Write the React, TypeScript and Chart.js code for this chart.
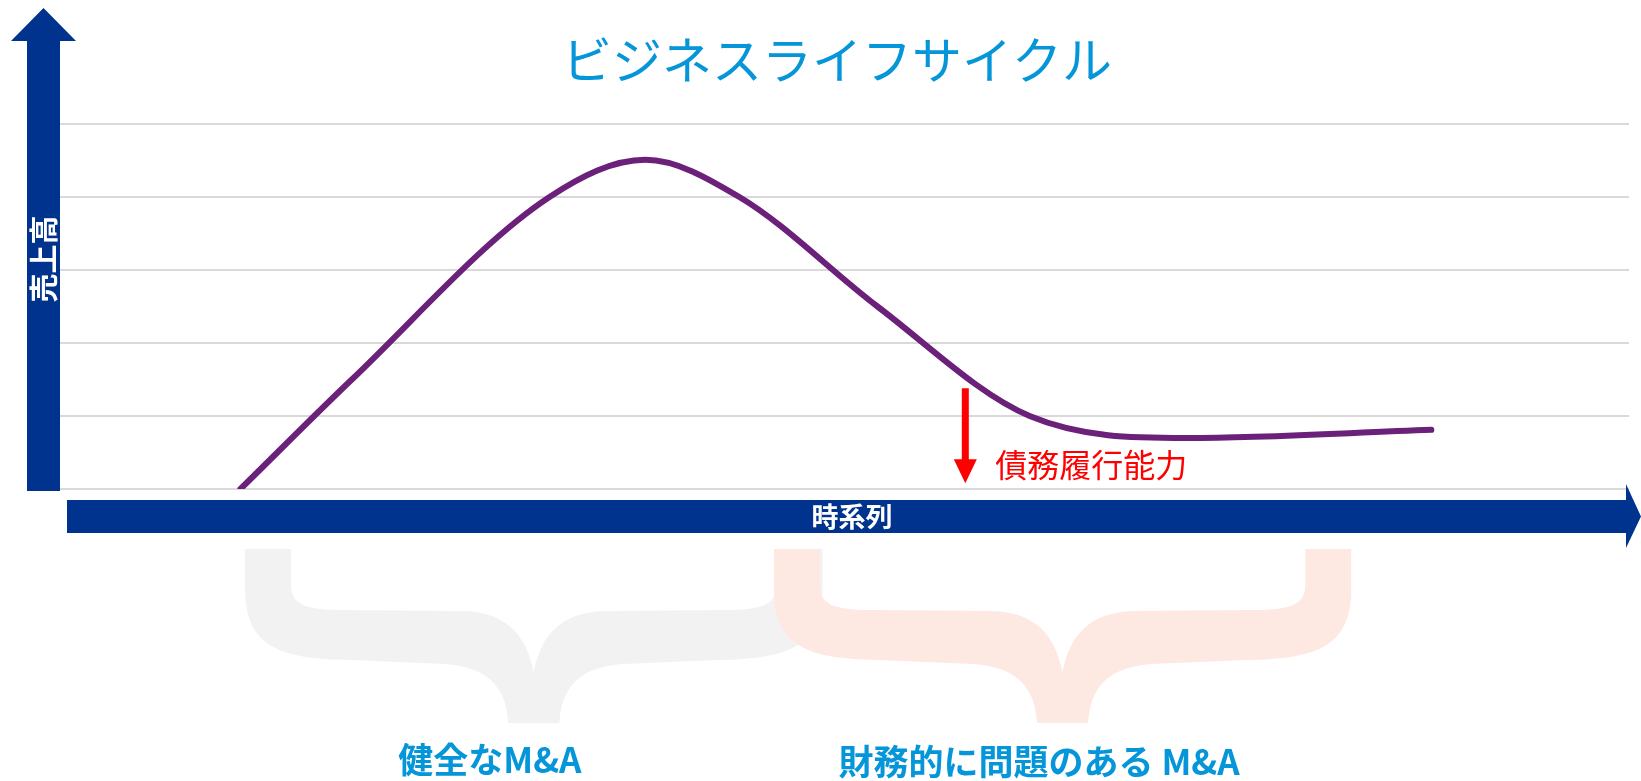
import React, { useEffect, useRef } from "react";
import { Chart, registerables } from "chart.js";

Chart.register(...registerables);

// ---- Text ----
const TITLE = "ビジネスライフサイクル";
const Y_AXIS_LABEL = "売上高";
const X_AXIS_LABEL = "時系列";
const DEBT_LABEL = "債務履行能力";

// ---- Data (time on a 0–100 scale, sales on a 0–5 scale) ----
const timeValues = [11.5, 18.6, 31.2, 37.3, 43.3, 52.1, 61.8, 71.8, 87.4];
const salesValues = [0, 1.5, 4.0, 4.51, 4.0, 2.5, 1.0, 0.7, 0.81];

// ---- Phase braces (time ranges) ----
const phaseNames = ["健全なM&A", "財務的に問題のある M&A"];
const phaseStart = [11.8, 45.5];
const phaseEnd = [48.6, 82.3];
const phaseLabelCenter = [27.4, 62.4];

// ---- Debt-capacity arrow (time, from sales value, to sales value) ----
const debtArrowTime = 57.7;
const debtArrowFrom = 1.38;
const debtArrowTo = 0.08;

const BLUE = "#00338D";
const LIGHT_BLUE = "#0596DA";
const PURPLE = "#6B2079";
const RED = "#FF0000";
const GRID = "#D9D9D9";
const BRACE_COLORS = ["#F2F2F2", "#FDE8E2"];
const FONT = '"Noto Sans CJK JP", "Noto Sans", sans-serif';

function braceShape(ctx: CanvasRenderingContext2D) {
  // normalized shape: width 577, height 174
  ctx.beginPath();
  ctx.moveTo(0, 0);
  ctx.lineTo(0, 40);
  ctx.bezierCurveTo(0, 98, 35, 110, 105, 111);
  ctx.lineTo(200, 115);
  ctx.bezierCurveTo(250, 119, 261, 145, 263, 174);
  ctx.lineTo(314, 174);
  ctx.bezierCurveTo(316, 145, 327, 119, 377, 115);
  ctx.lineTo(472, 111);
  ctx.bezierCurveTo(542, 110, 577, 98, 577, 40);
  ctx.lineTo(577, 0);
  ctx.lineTo(531, 0);
  ctx.lineTo(531, 36);
  ctx.bezierCurveTo(531, 55, 518, 61, 480, 61);
  ctx.lineTo(360, 62);
  ctx.bezierCurveTo(305, 63, 293, 100, 288.5, 124);
  ctx.bezierCurveTo(284, 100, 272, 63, 217, 62);
  ctx.lineTo(97, 61);
  ctx.bezierCurveTo(59, 61, 46, 55, 46, 36);
  ctx.lineTo(46, 0);
  ctx.closePath();
  ctx.fill();
}

const decorPlugin = {
  id: "decor",
  afterDraw(chart: any) {
    const ctx: CanvasRenderingContext2D = chart.ctx;
    const { left: L, top: T, bottom: B } = chart.chartArea;
    const xs = chart.scales.x;
    const ys = chart.scales.y;
    const W = chart.width;
    ctx.save();

    // Vertical (sales) arrow
    ctx.fillStyle = BLUE;
    ctx.beginPath();
    ctx.moveTo(L - 33, B + 2);
    ctx.lineTo(L - 33, T - 83);
    ctx.lineTo(L - 49, T - 83);
    ctx.lineTo(L - 16.5, T - 116);
    ctx.lineTo(L + 16, T - 83);
    ctx.lineTo(L, T - 83);
    ctx.lineTo(L, B + 2);
    ctx.closePath();
    ctx.fill();

    // Horizontal (time) arrow
    ctx.beginPath();
    ctx.moveTo(L + 7, B + 11);
    ctx.lineTo(W - 15, B + 11);
    ctx.lineTo(W - 15, B - 5);
    ctx.lineTo(W, B + 27.5);
    ctx.lineTo(W - 15, B + 59);
    ctx.lineTo(W - 15, B + 44);
    ctx.lineTo(L + 7, B + 44);
    ctx.closePath();
    ctx.fill();

    // Axis labels
    ctx.fillStyle = "#FFFFFF";
    ctx.textAlign = "center";
    ctx.textBaseline = "middle";
    ctx.font = `bold 27px ${FONT}`;
    ctx.fillText(X_AXIS_LABEL, 852, B + 28);
    ctx.save();
    ctx.translate(L - 16, 259);
    ctx.rotate(-Math.PI / 2);
    ctx.font = `bold 29px ${FONT}`;
    ctx.fillText(Y_AXIS_LABEL, 0, 0);
    ctx.restore();

    // Title
    ctx.fillStyle = LIGHT_BLUE;
    ctx.font = `50px ${FONT}`;
    ctx.fillText(TITLE, 837, 60);

    // Debt arrow
    const ax = xs.getPixelForValue(debtArrowTime);
    const ay0 = ys.getPixelForValue(debtArrowFrom);
    const ay1 = ys.getPixelForValue(debtArrowTo);
    ctx.fillStyle = RED;
    ctx.beginPath();
    ctx.moveTo(ax - 3.5, ay0);
    ctx.lineTo(ax + 3.5, ay0);
    ctx.lineTo(ax + 3.5, ay1 - 24);
    ctx.lineTo(ax + 11.5, ay1 - 24);
    ctx.lineTo(ax, ay1);
    ctx.lineTo(ax - 11.5, ay1 - 24);
    ctx.lineTo(ax - 3.5, ay1 - 24);
    ctx.closePath();
    ctx.fill();
    ctx.textAlign = "left";
    ctx.font = `32px ${FONT}`;
    ctx.fillText(DEBT_LABEL, ax + 30, ay1 - 18);

    // Phase braces and labels
    for (let i = 0; i < phaseNames.length; i++) {
      const x0 = xs.getPixelForValue(phaseStart[i]);
      const x1 = xs.getPixelForValue(phaseEnd[i]);
      ctx.save();
      ctx.translate(x0, B + 60);
      ctx.scale((x1 - x0) / 577, 1);
      ctx.fillStyle = BRACE_COLORS[i];
      braceShape(ctx);
      ctx.restore();
    }
    ctx.fillStyle = LIGHT_BLUE;
    ctx.textAlign = "center";
    ctx.font = `bold 35px ${FONT}`;
    for (let i = 0; i < phaseNames.length; i++) {
      const cx = xs.getPixelForValue(phaseLabelCenter[i]);
      ctx.fillText(phaseNames[i], cx, B + 271 + i * 2);
    }
    ctx.restore();
  },
};

export default function App() {
  const canvasRef = useRef<HTMLCanvasElement | null>(null);

  useEffect(() => {
    document.body.style.margin = "0";
    document.body.style.overflow = "hidden";
    const canvas = canvasRef.current;
    if (!canvas) return;
    const chart = new Chart(canvas, {
      type: "line",
      data: {
        datasets: [
          {
            data: timeValues.map((t, i) => ({ x: t, y: salesValues[i] })),
            borderColor: PURPLE,
            borderWidth: 6,
            borderCapStyle: "round",
            borderJoinStyle: "round",
            pointRadius: 0,
            cubicInterpolationMode: "monotone",
            fill: false,
          },
        ],
      },
      options: {
        responsive: false,
        animation: false,
        devicePixelRatio: 1,
        layout: { padding: { left: 60, right: 12, top: 124, bottom: 292 } },
        plugins: { legend: { display: false }, tooltip: { enabled: false }, title: { display: false } },
        scales: {
          x: { type: "linear", min: 0, max: 100, display: false },
          y: {
            min: 0,
            max: 5,
            ticks: { display: false, stepSize: 1 },
            grid: { color: GRID, lineWidth: 2, drawTicks: false },
            border: { display: false },
          },
        },
      },
      plugins: [decorPlugin],
    } as any);
    return () => chart.destroy();
  }, []);

  return (
    <div style={{ width: 1641, height: 781 }}>
      <canvas ref={canvasRef} width={1641} height={781} style={{ display: "block" }} />
    </div>
  );
}
